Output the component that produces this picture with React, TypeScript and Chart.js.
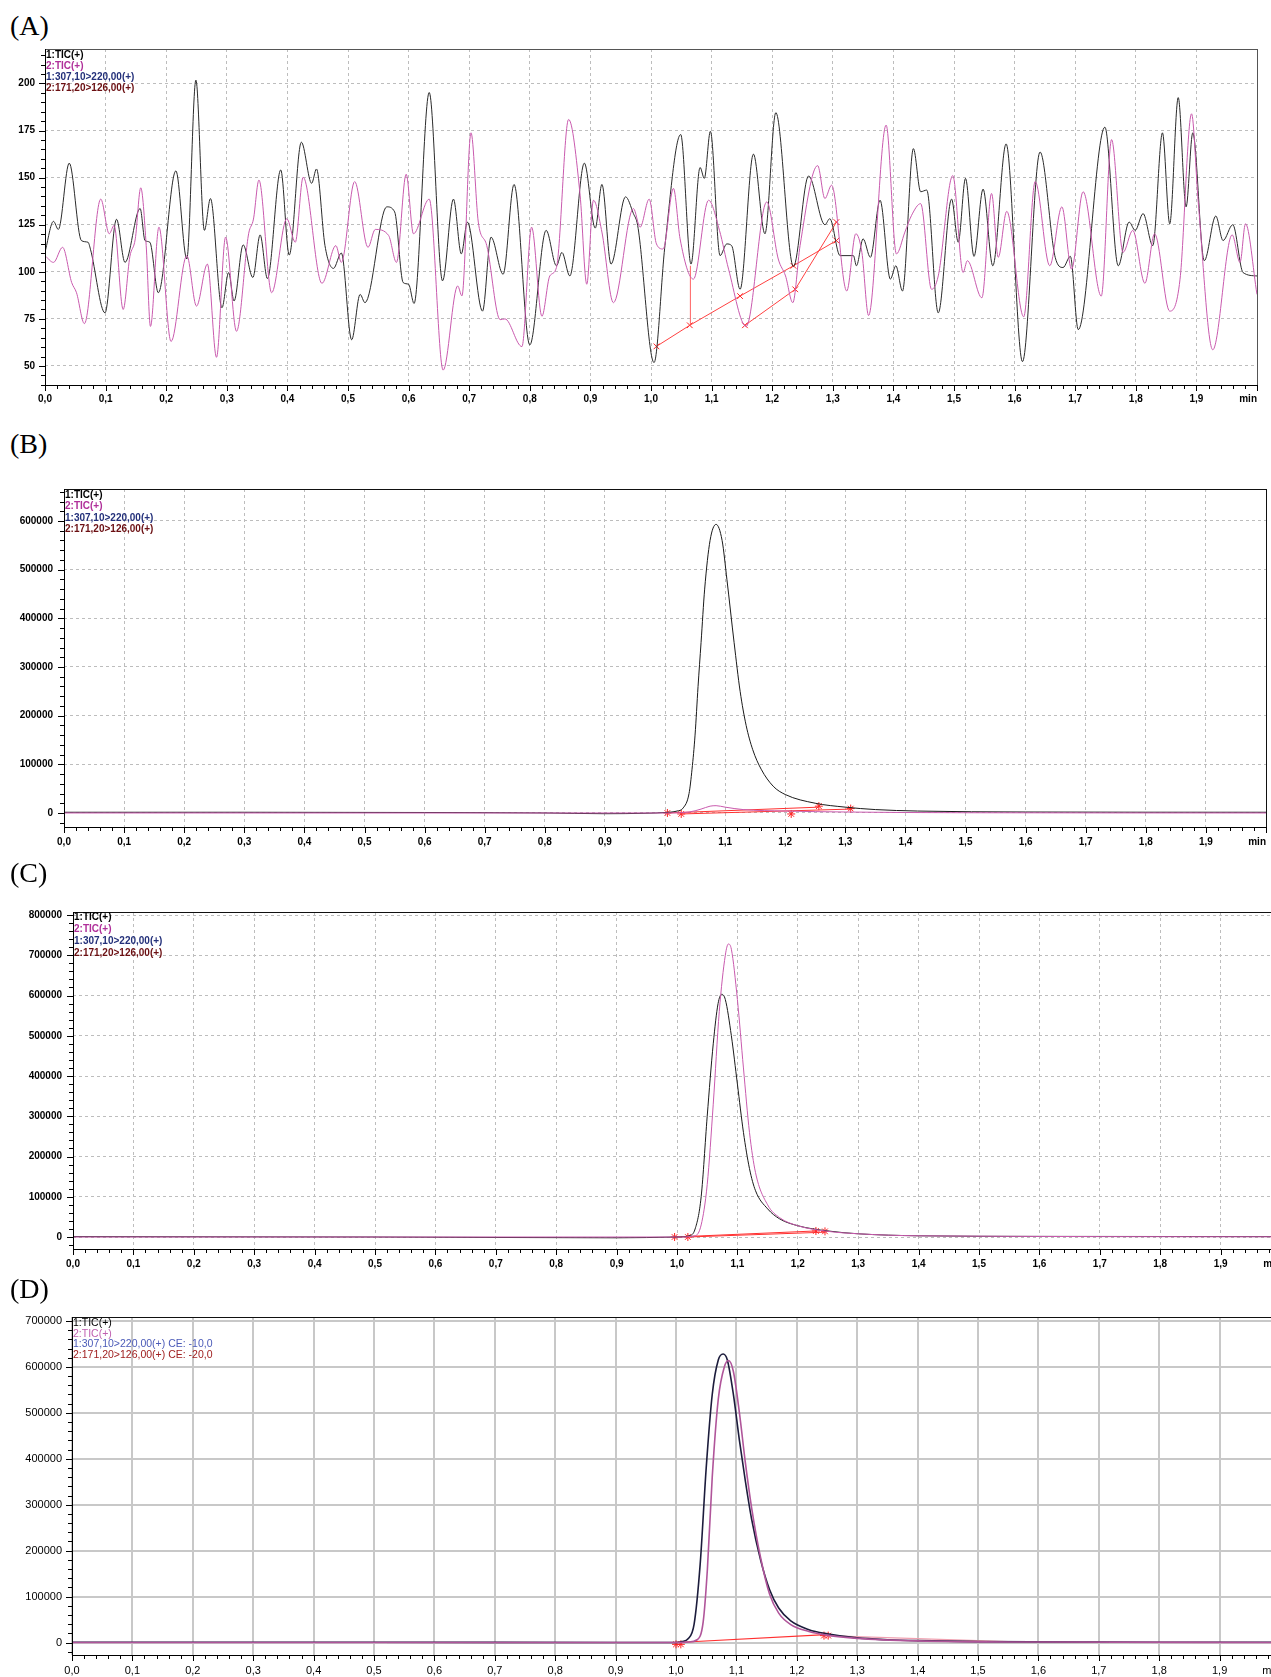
import React, { useEffect, useRef } from "react";
import { Chart, registerables } from "chart.js";
Chart.register(...registerables);

type Pt = [number, number];

// ---------------- Panel A (noise level chromatogram) ----------------
const aBlack: Pt[] = [
  [0.0,110.4],[0.014,126.8],[0.022,122.5],[0.040,157.7],[0.060,116.6],[0.071,115.7],[0.075,112],[0.099,78.2],[0.118,127.9],[0.132,105],
  [0.157,133.6],[0.165,116.6],[0.173,115.7],[0.187,88.9],[0.216,153.6],[0.234,106.8],[0.249,201.8],[0.263,122],[0.273,138.9],[0.292,80.9],
  [0.303,99.6],[0.312,84.5],[0.327,114.3],[0.343,97],[0.355,119.6],[0.367,96.4],[0.389,154.1],[0.403,108.9],[0.423,168.8],[0.440,147],
  [0.448,154.6],[0.462,113.9],[0.476,101.8],[0.489,110],[0.506,63.9],[0.520,88],[0.528,83.6],[0.564,134.5],[0.577,131.8],[0.591,94.3],
  [0.600,93.4],[0.609,83.2],[0.634,195.2],[0.656,95.2],[0.674,138.6],[0.687,109.5],[0.697,126.4],[0.722,79.1],[0.736,118.4],[0.756,98.7],
  [0.774,146.4],[0.800,61.2],[0.827,122],[0.844,103.2],[0.853,110.3],[0.866,97.8],[0.890,157.7],[0.908,123.2],[0.919,146.4],[0.934,104.1],
  [0.958,139.8],[0.971,130.9],[0.978,124.6],[1.005,51.8],[1.023,113.9],[1.049,172.9],[1.066,104.1],[1.081,155.4],[1.088,149.6],[1.098,174.6],
  [1.114,108.6],[1.125,114.8],[1.133,113.9],[1.147,90.7],[1.169,162.5],[1.188,120.2],[1.206,184.5],[1.235,102.8],[1.260,150.9],[1.287,125],
  [1.295,128.2],[1.312,108.6],[1.334,108.6],[1.339,103.2],[1.350,117.5],[1.362,107.7],[1.378,138],[1.395,96.1],[1.404,103.2],[1.415,89.8],
  [1.433,165.4],[1.445,142.5],[1.455,143.4],[1.474,78.2],[1.496,138.6],[1.507,115.7],[1.519,149.6],[1.533,108.2],[1.548,143.9],[1.564,103.2],
  [1.586,167.9],[1.613,52.3],[1.642,163.6],[1.667,107.7],[1.680,102.3],[1.692,108.2],[1.705,69.3],[1.749,176.8],[1.771,103.2],[1.789,126.4],
  [1.799,122],[1.812,130.9],[1.828,113.9],[1.844,173.8],[1.856,125.5],[1.870,192.5],[1.883,134.5],[1.894,173.8],[1.913,105.9],[1.932,129.6],
  [1.944,116.6],[1.960,125],[1.977,99.6],[2.0,97.8]
];
const aPink: Pt[] = [
  [0,108.6],[0.014,105],[0.029,113],[0.044,94.3],[0.052,88.9],[0.065,72.5],[0.092,138.6],[0.106,120.2],[0.114,124.6],[0.129,80],
  [0.140,108],[0.149,117.5],[0.158,144.6],[0.167,113.9],[0.174,71],[0.188,123.7],[0.208,63],[0.234,108.6],[0.250,81.8],[0.268,104.1],
  [0.283,54.6],[0.298,118.4],[0.316,68.4],[0.336,120.2],[0.344,128],[0.353,148.7],[0.374,88.9],[0.399,128.2],[0.413,115.7],[0.426,150.2],
  [0.457,93.9],[0.480,113.9],[0.489,105],[0.511,147.9],[0.533,113],[0.545,122.5],[0.567,119.3],[0.580,105],[0.596,151.8],[0.608,120.2],
  [0.634,138.6],[0.657,47.8],[0.681,92.5],[0.688,87.2],[0.703,173.8],[0.715,126.4],[0.729,113.9],[0.751,74.6],[0.759,75],[0.787,60.3],
  [0.803,123.7],[0.820,76.4],[0.833,97.8],[0.844,102.3],[0.864,180.9],[0.883,140.7],[0.894,93.4],[0.905,138],[0.919,121.1],[0.938,83.6],
  [0.971,133.6],[0.982,123.7],[0.997,138.6],[1.009,114.8],[1.020,112.1],[1.037,144.3],[1.048,117.5],[1.070,96.1],[1.095,138],[1.113,122],
  [1.128,101.4],[1.157,71],[1.191,137.1],[1.210,106.8],[1.222,97.8],[1.234,83.6],[1.246,113.9],[1.275,156.4],[1.287,138.9],[1.298,146],
  [1.323,89.8],[1.338,120.2],[1.348,110.3],[1.359,76.8],[1.388,177.9],[1.405,109.5],[1.419,121.1],[1.430,130],[1.445,136.2],[1.463,90.7],
  [1.474,97.8],[1.498,151.1],[1.515,99.6],[1.522,105.9],[1.546,86.2],[1.562,141.6],[1.573,107.7],[1.587,132.1],[1.615,76.1],[1.634,147.9],
  [1.658,103.2],[1.678,134.5],[1.694,101.4],[1.713,142.5],[1.743,87.1],[1.760,170.2],[1.779,110.3],[1.795,122],[1.815,93.9],[1.831,120.2],
  [1.856,79.1],[1.873,96.1],[1.892,183.9],[1.903,137.1],[1.927,58.6],[1.959,119.6],[1.972,105],[1.981,125.5],[2.0,88]
];
const aRed1: Pt[] = [[1.009,60.4],[1.064,71.6],[1.147,87.1],[1.235,103.2],[1.306,116.6]];
const aRed2: Pt[] = [[1.155,71.6],[1.238,90.7],[1.306,126.4]];
const aRedV: Pt[] = [[1.065,71.6],[1.065,103.2]];
const aMarks: Pt[] = [[1.009,60.4],[1.064,71.6],[1.147,87.1],[1.235,103.2],[1.306,116.6],[1.155,71.6],[1.238,90.7],[1.306,126.4]];

// ---------------- Panel B ----------------
const bBlack: Pt[] = [
  [0,1500],[0.3,1500],[0.6,1000],[0.8,0],[0.9,-1500],[0.97,-500],[1.0,1000],[1.02,4000],[1.03,10000],[1.04,40000],
  [1.045,90000],[1.05,160000],[1.055,260000],[1.06,350000],[1.066,460000],[1.075,560000],[1.085,593000],[1.095,560000],[1.103,480000],[1.115,350000],
  [1.125,250000],[1.135,180000],[1.146,130000],[1.16,90000],[1.18,55000],[1.2,38000],[1.25,20000],[1.3,12000],[1.35,7000],[1.42,4000],
  [1.6,2000],[2.0,1500]
];
const bPink: Pt[] = [[0,0],[1.0,0],[1.04,2000],[1.06,8000],[1.075,14000],[1.085,15000],[1.1,12000],[1.13,7000],[1.2,4000],[1.3,2000],[1.5,500],[2,0]];
const bRed1: Pt[] = [[1.004,0],[1.256,12000]];
const bRed2: Pt[] = [[1.027,-2000],[1.309,8000]];
const bMarks: Pt[] = [[1.004,0],[1.027,-2000],[1.210,-2000],[1.256,14000],[1.309,9000]];

// ---------------- Panel C ----------------
const cBlack: Pt[] = [
  [0,1000],[0.5,0],[0.9,-2000],[1.0,0],[1.02,3000],[1.03,20000],[1.04,100000],[1.05,300000],[1.06,480000],[1.068,580000],
  [1.074,603000],[1.08,590000],[1.09,500000],[1.10,380000],[1.11,260000],[1.12,170000],[1.13,115000],[1.15,70000],[1.17,45000],[1.2,28000],
  [1.25,15000],[1.3,8000],[1.4,3000],[1.6,1500],[2,1000]
];
const cPink: Pt[] = [
  [0,0],[1.0,0],[1.03,3000],[1.04,30000],[1.05,130000],[1.06,330000],[1.07,560000],[1.08,700000],[1.085,728000],[1.09,715000],
  [1.10,590000],[1.11,420000],[1.12,260000],[1.13,160000],[1.15,80000],[1.17,48000],[1.2,28000],[1.25,14000],[1.3,8000],[1.4,3000],[2,500]
];
const cRed1: Pt[] = [[0.996,0],[1.23,15000]];
const cRed2: Pt[] = [[1.018,0],[1.245,12000]];
const cMarks: Pt[] = [[0.996,0],[1.018,0],[1.23,15000],[1.245,14000]];

// ---------------- Panel D ----------------
const dBlack: Pt[] = [
  [0,500],[0.5,500],[0.9,0],[1.0,0],[1.01,2000],[1.02,8000],[1.03,40000],[1.04,170000],[1.05,380000],[1.06,540000],
  [1.07,615000],[1.078,628000],[1.085,615000],[1.095,540000],[1.105,440000],[1.115,350000],[1.125,270000],[1.14,180000],[1.155,115000],[1.17,75000],
  [1.19,47000],[1.22,28000],[1.25,19000],[1.3,10000],[1.35,6000],[1.4,4000],[1.5,2000],[1.7,800],[2,500]
];
const dPink: Pt[] = [
  [0,0],[1.0,0],[1.02,1000],[1.035,6000],[1.045,45000],[1.052,160000],[1.06,360000],[1.07,530000],[1.08,600000],[1.087,614000],
  [1.095,590000],[1.105,500000],[1.115,390000],[1.125,295000],[1.14,185000],[1.155,105000],[1.17,64000],[1.19,39000],[1.22,24000],[1.25,16000],
  [1.3,9000],[1.4,3500],[1.6,1000],[2,0]
];
const dRed: Pt[] = [[1.002,0],[1.248,17000]];
const dRedFade: Pt[] = [[1.248,15000],[1.55,2000]];
const dMarks: Pt[] = [[1.0,-4000],[1.008,-4000],[1.245,15000],[1.252,15000]];

// ---------------- tick / legend text ----------------
const xMajors = [0,0.1,0.2,0.3,0.4,0.5,0.6,0.7,0.8,0.9,1.0,1.1,1.2,1.3,1.4,1.5,1.6,1.7,1.8,1.9,2.0];
const legendABC = [
  { text: "1:TIC(+)", color: "#000000" },
  { text: "2:TIC(+)", color: "#b0309a" },
  { text: "1:307,10>220,00(+)", color: "#23307a" },
  { text: "2:171,20>126,00(+)", color: "#6b0f12" },
];
const legendD = [
  { text: "1:TIC(+)", color: "#000000" },
  { text: "2:TIC(+)", color: "#c060b0" },
  { text: "1:307,10>220,00(+) CE: -10,0", color: "#4a5ab8" },
  { text: "2:171,20>126,00(+) CE: -20,0", color: "#a02020" },
];

type Series = { data: Pt[]; color: string; width: number; kind: "curve" | "straight" | "marks"; style?: string };
interface PanelCfg {
  label: string; labelTop: number;
  top: number; height: number; width: number;
  area: { left: number; top: number; right: number; bottom: number };
  yMin: number; yMax: number; yMajor: number; yMinor: number;
  series: Series[];
  gridColor: string; gridDash: number[]; gridWidth: number;
  font: { family: string; size: number; weight: string };
  yPad: number; xPad: number;
  legend: { text: string; color: string }[];
  legendFont: string; legendY0: number; legendDy: number;
  borderColor: string;
}

const fontABC = { family: "Liberation Sans", size: 10, weight: "bold" };
const fontD = { family: "Liberation Sans", size: 11, weight: "normal" };

const panels: PanelCfg[] = [
  {
    label: "(A)", labelTop: 12,
    top: 40, height: 380, width: 1271,
    area: { left: 45, top: 49, right: 1257, bottom: 385 },
    yMin: 39.9, yMax: 218.3, yMajor: 25, yMinor: 5,
    series: [
      { data: aPink, color: "#c95aae", width: 1, kind: "curve" },
      { data: aBlack, color: "#2a2a2a", width: 1, kind: "curve" },
      { data: aRed1, color: "#ff4040", width: 1, kind: "straight" },
      { data: aRed2, color: "#ff4040", width: 1, kind: "straight" },
      { data: aRedV, color: "#ff6060", width: 1, kind: "straight" },
      { data: aMarks, color: "#ff2020", width: 1, kind: "marks", style: "crossRot" },
    ],
    gridColor: "#bdbdbd", gridDash: [3, 3], gridWidth: 1,
    font: fontABC, yPad: 10, xPad: 8,
    legend: legendABC, legendFont: "bold 10px 'Liberation Sans'", legendY0: 6, legendDy: 11.2,
    borderColor: "#555555",
  },
  {
    label: "(B)", labelTop: 430,
    top: 470, height: 390, width: 1271,
    area: { left: 64, top: 489, right: 1269, bottom: 827 },
    yMin: -28800, yMax: 665700, yMajor: 100000, yMinor: 20000,
    series: [
      { data: bPink, color: "#c95aae", width: 1, kind: "curve" },
      { data: bBlack, color: "#1a1a1a", width: 1, kind: "curve" },
      { data: bRed1, color: "#ff3030", width: 1, kind: "straight" },
      { data: bRed2, color: "#ff3030", width: 1, kind: "straight" },
      { data: bMarks, color: "#ff2020", width: 1, kind: "marks", style: "star" },
    ],
    gridColor: "#bdbdbd", gridDash: [3, 3], gridWidth: 1,
    font: fontABC, yPad: 11, xPad: 9,
    legend: legendABC, legendFont: "bold 10px 'Liberation Sans'", legendY0: 6, legendDy: 11.5,
    borderColor: "#111111",
  },
  {
    label: "(C)", labelTop: 859,
    top: 890, height: 395, width: 1295,
    area: { left: 73, top: 912, right: 1281, bottom: 1249 },
    yMin: -29800, yMax: 807500, yMajor: 100000, yMinor: 20000,
    series: [
      { data: cPink, color: "#c95aae", width: 1, kind: "curve" },
      { data: cBlack, color: "#1a1a1a", width: 1, kind: "curve" },
      { data: cRed1, color: "#ff3030", width: 1, kind: "straight" },
      { data: cRed2, color: "#ff3030", width: 1, kind: "straight" },
      { data: cMarks, color: "#ff2020", width: 1, kind: "marks", style: "star" },
    ],
    gridColor: "#bdbdbd", gridDash: [3, 3], gridWidth: 1,
    font: fontABC, yPad: 11, xPad: 9,
    legend: legendABC, legendFont: "bold 10px 'Liberation Sans'", legendY0: 5.5, legendDy: 11.8,
    borderColor: "#111111",
  },
  {
    label: "(D)", labelTop: 1275,
    top: 1300, height: 377, width: 1295,
    area: { left: 72, top: 1317, right: 1280, bottom: 1655 },
    yMin: -27200, yMax: 708700, yMajor: 100000, yMinor: 20000,
    series: [
      { data: dPink, color: "#b0559a", width: 1.6, kind: "curve" },
      { data: dBlack, color: "#1c1c3c", width: 1.6, kind: "curve" },
      { data: dRedFade, color: "#f0a0b0", width: 1.2, kind: "straight" },
      { data: dRed, color: "#ff3030", width: 1.2, kind: "straight" },
      { data: dMarks, color: "#ff2020", width: 1, kind: "marks", style: "star" },
    ],
    gridColor: "#c8c8c8", gridDash: [], gridWidth: 2,
    font: fontD, yPad: 10, xPad: 9,
    legend: legendD, legendFont: "10.5px 'Liberation Sans'", legendY0: 6, legendDy: 10.7,
    borderColor: "#111111",
  },
];

const fmtX = (v: number) => v.toFixed(1).replace(".", ",");

function buildConfig(cfg: PanelCfg): any {
  const XH = 30;
  const a = cfg.area;
  const yMajors: number[] = [];
  for (let v = Math.ceil(cfg.yMin / cfg.yMajor) * cfg.yMajor; v <= cfg.yMax + 1e-9; v += cfg.yMajor) yMajors.push(v);
  const fontStr = `${cfg.font.weight} ${cfg.font.size}px '${cfg.font.family}'`;

  const decor = {
    id: "decor",
    afterDraw(chart: any) {
      const { ctx, chartArea: ca, scales } = chart;
      const xs = scales.x, ys = scales.y;
      ctx.save();
      ctx.setLineDash([]);
      // frame
      ctx.strokeStyle = cfg.borderColor;
      ctx.lineWidth = 1;
      ctx.strokeRect(Math.round(ca.left) + 0.5, Math.round(ca.top) + 0.5, Math.round(ca.right - ca.left), Math.round(ca.bottom - ca.top));
      ctx.strokeStyle = "#000";
      ctx.beginPath();
      ctx.moveTo(Math.round(ca.left) + 0.5, ca.top);
      ctx.lineTo(Math.round(ca.left) + 0.5, Math.round(ca.bottom) + 0.5);
      ctx.lineTo(ca.right, Math.round(ca.bottom) + 0.5);
      ctx.stroke();
      // x ticks (major every 0.1, minor every 0.02)
      ctx.beginPath();
      for (let i = 0; i <= 100; i++) {
        const px = Math.round(xs.getPixelForValue(i * 0.02)) + 0.5;
        const len = i % 5 === 0 ? 6 : 4;
        ctx.moveTo(px, Math.round(ca.bottom));
        ctx.lineTo(px, Math.round(ca.bottom) + len);
      }
      // y ticks
      const j0 = Math.ceil(cfg.yMin / cfg.yMinor), j1 = Math.floor(cfg.yMax / cfg.yMinor);
      for (let j = j0; j <= j1; j++) {
        const v = j * cfg.yMinor;
        const py = Math.round(ys.getPixelForValue(v)) + 0.5;
        const major = Math.abs(v / cfg.yMajor - Math.round(v / cfg.yMajor)) < 1e-6;
        const len = major ? 6 : 4;
        ctx.moveTo(Math.round(ca.left) - len, py);
        ctx.lineTo(Math.round(ca.left), py);
      }
      ctx.stroke();
      // "min" unit label, right-aligned at x = 2.0
      ctx.fillStyle = "#000";
      ctx.font = fontStr;
      ctx.textAlign = "right";
      ctx.textBaseline = "middle";
      ctx.fillText("min", xs.getPixelForValue(2.0), ca.bottom + cfg.xPad + cfg.font.size * 0.6);
      // legend
      ctx.font = cfg.legendFont;
      ctx.textAlign = "left";
      cfg.legend.forEach((l, i) => {
        ctx.fillStyle = l.color;
        ctx.fillText(l.text, ca.left + 1, ca.top + cfg.legendY0 + i * cfg.legendDy);
      });
      ctx.restore();
    },
  };

  const datasets = cfg.series.map((s) => {
    const base: any = {
      data: s.data.map(([x, y]) => ({ x, y })),
      borderColor: s.color,
      borderWidth: s.width,
      fill: false,
    };
    if (s.kind === "curve") {
      return { ...base, pointRadius: 0, cubicInterpolationMode: "monotone" };
    }
    if (s.kind === "straight") {
      return { ...base, pointRadius: 0, tension: 0 };
    }
    return {
      ...base, showLine: false, pointStyle: s.style, pointRadius: 4,
      pointBorderColor: s.color, pointBackgroundColor: s.color, pointBorderWidth: 1,
    };
  });

  return {
    type: "line",
    data: { datasets },
    options: {
      animation: false,
      responsive: false,
      maintainAspectRatio: false,
      events: [],
      layout: {
        padding: { left: 0, top: a.top - cfg.top, right: cfg.width - a.right, bottom: cfg.top + cfg.height - a.bottom - XH },
      },
      plugins: { legend: { display: false }, tooltip: { enabled: false } },
      scales: {
        x: {
          type: "linear", min: 0, max: 2,
          afterBuildTicks: (s: any) => { s.ticks = xMajors.map((v) => ({ value: v })); },
          afterFit: (s: any) => { s.height = XH; s.paddingLeft = 0; s.paddingRight = 0; },
          ticks: {
            callback: (v: any) => (Number(v) >= 1.999 ? "" : fmtX(Number(v))),
            font: cfg.font, color: "#000", padding: cfg.xPad, maxRotation: 0, autoSkip: false,
          },
          grid: { color: cfg.gridColor, lineWidth: cfg.gridWidth, drawTicks: false },
          border: { display: false, dash: cfg.gridDash },
        },
        y: {
          type: "linear", min: cfg.yMin, max: cfg.yMax,
          afterBuildTicks: (s: any) => { s.ticks = yMajors.map((v) => ({ value: v })); },
          afterFit: (s: any) => { s.width = a.left; s.paddingTop = 0; s.paddingBottom = 0; },
          ticks: {
            callback: (v: any) => String(Math.round(Number(v))),
            font: cfg.font, color: "#000", padding: cfg.yPad, autoSkip: false,
          },
          grid: { color: cfg.gridColor, lineWidth: cfg.gridWidth, drawTicks: false },
          border: { display: false, dash: cfg.gridDash },
        },
      },
    },
    plugins: [decor],
  };
}

function Panel({ cfg }: { cfg: PanelCfg }) {
  const ref = useRef<HTMLCanvasElement>(null);
  useEffect(() => {
    const chart = new Chart(ref.current as HTMLCanvasElement, buildConfig(cfg));
    return () => chart.destroy();
  }, [cfg]);
  return (
    <>
      <div
        style={{
          position: "absolute", left: 10, top: cfg.labelTop, fontFamily: "'Liberation Serif', serif",
          fontSize: 28, lineHeight: "28px", color: "#000",
        }}
      >
        {cfg.label}
      </div>
      <canvas
        ref={ref}
        width={cfg.width}
        height={cfg.height}
        style={{ position: "absolute", left: 0, top: cfg.top, width: cfg.width, height: cfg.height }}
      />
    </>
  );
}

export default function App() {
  return (
    <div
      style={{
        position: "absolute", left: 0, top: 0, width: 1271, height: 1677,
        overflow: "hidden", background: "#ffffff",
      }}
    >
      {panels.map((p) => (
        <Panel key={p.label} cfg={p} />
      ))}
    </div>
  );
}
